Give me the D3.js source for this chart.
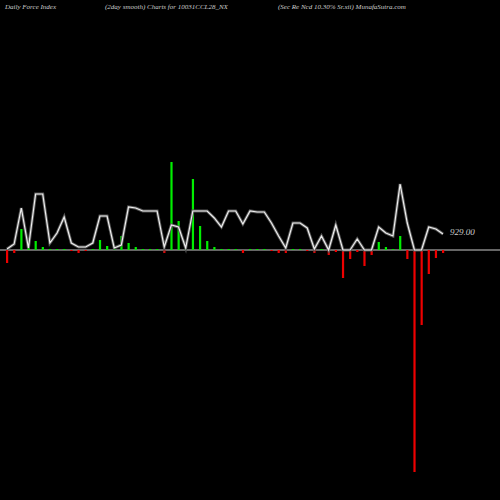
<!DOCTYPE html><html><head><script src="https://cdn.jsdelivr.net/npm/d3@7"></script>
<style>body{margin:0;background:#000}</style></head><body><svg id="c" width="500" height="500"></svg>
<script>
const bars=[-13,-3,21,2,9,3,1,1,1,-1,-3,-1,1,10,4,1,14,7,3,1,1,1,-3,88,29,1,71,24,9,3,1,1,1,-3,1,1,1,-1,-3,-3,1,1,-1,-3,1,-5,-2,-28,-9,-2,-16,-5,8,3,1,14,-9,-222,-75,-24,-8,-3];
const line=[1,6,42,2,56,56,7,17,33,7,3,3,7,34,34,2,5,43,42,39,39,39,3,25,23,2,39,39,39,32,23,39,39,26,39,38,38,27,14,2,27,27,22,1,14,0,25,0,0,11,0,0,23,17,14,66,27,0,0,23,21,16];
const lastLabel="929.00";
const titles=[["Daily Force  Index",5],["(2day smooth) Charts for 10031CCL28_NX",105],["(Sec Re  Ncd 10.30% Sr.xii) MunafaSutra.com",278]];
const svg=d3.select("#c");
svg.append("rect").attr("width",500).attr("height",500).attr("fill","#000");
const x=d3.scaleLinear().domain([0,bars.length-1]).range([7,443]);
const y=d3.scaleLinear().domain([-250,250]).range([500,0]);
svg.append("line").attr("x1",0).attr("x2",500).attr("y1",y(0)).attr("y2",y(0)).attr("stroke","#888").attr("stroke-width",1.5);
svg.selectAll("rect.b").data(bars).join("rect").attr("class","b")
 .attr("x",(d,i)=>x(i)-1).attr("width",2.2)
 .attr("y",d=>d>0?y(d):y(0)).attr("height",d=>Math.abs(y(d)-y(0)))
 .attr("fill",d=>d>0?"#00ee00":"#ee0000");
const lg=d3.line().x((d,i)=>x(i)).y(d=>y(d));
svg.append("path").attr("d",lg(line)).attr("fill","none").attr("stroke","#555").attr("stroke-width",3);
svg.append("path").attr("d",lg(line)).attr("fill","none").attr("stroke","#eee").attr("stroke-width",1.2);
svg.append("text").attr("x",450).attr("y",y(line[line.length-1])+1).text(lastLabel)
 .attr("fill","#ccc").attr("font-family","Liberation Serif").attr("font-style","italic").attr("font-size",9);
svg.selectAll("text.t").data(titles).join("text").attr("class","t").attr("x",d=>d[1]).attr("y",9)
 .text(d=>d[0]).attr("fill","#ccc").attr("font-family","Liberation Serif").attr("font-style","italic").attr("font-size",7);
</script></body></html>
